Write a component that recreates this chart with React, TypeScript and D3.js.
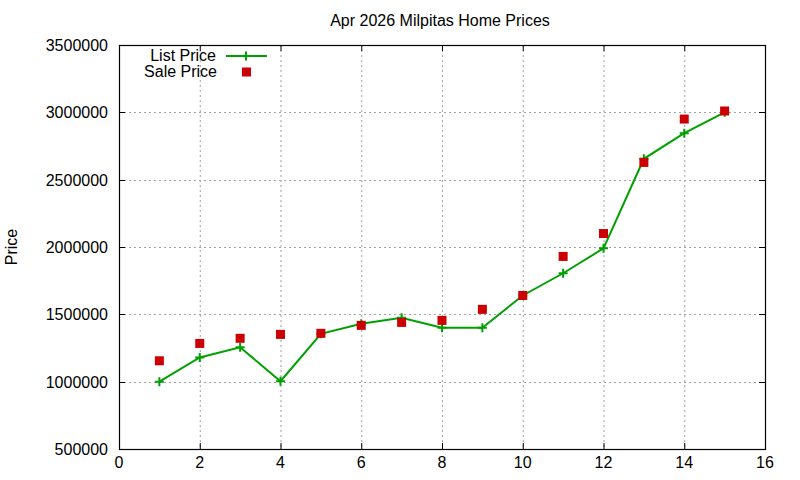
import React, { useEffect, useRef } from 'react';
import * as d3 from 'd3';

const months = [1, 2, 3, 4, 5, 6, 7, 8, 9, 10, 11, 12, 13, 14, 15];
const listPrice = [1000000, 1180000, 1255000, 1003000, 1355000, 1430000, 1475000, 1400000, 1400000, 1640000, 1805000, 1990000, 2655000, 2845000, 3000000];
const salePrice = [1155000, 1284000, 1322000, 1351000, 1359000, 1418000, 1440000, 1455000, 1537000, 1640000, 1930000, 2100000, 2628000, 2950000, 3010000];
const xTicks = [0, 2, 4, 6, 8, 10, 12, 14, 16];
const yTicks = [500000, 1000000, 1500000, 2000000, 2500000, 3000000, 3500000];

const App: React.FC = () => {
  const ref = useRef<SVGSVGElement | null>(null);

  useEffect(() => {
    const svg = d3.select(ref.current);
    svg.selectAll('*').remove();

    const left = 119, right = 765, top = 45, bottom = 449;
    const font = 'Liberation Sans, Arial, sans-serif';
    const fs = '16px';

    const x = d3.scaleLinear().domain([0, 16]).range([left, right]);
    const y = d3.scaleLinear().domain([500000, 3500000]).range([bottom, top]);

    svg.append('rect').attr('width', 800).attr('height', 480).attr('fill', 'white');

    // grid
    const grid = svg.append('g')
      .attr('stroke', '#a0a0a0')
      .attr('stroke-width', 1)
      .attr('stroke-dasharray', '2,3');
    xTicks.slice(1, -1).forEach(t => {
      grid.append('line')
        .attr('x1', x(t) + 0.5).attr('x2', x(t) + 0.5)
        .attr('y1', top).attr('y2', bottom);
    });
    yTicks.slice(1, -1).forEach(t => {
      grid.append('line')
        .attr('x1', left).attr('x2', right)
        .attr('y1', Math.round(y(t)) + 0.5).attr('y2', Math.round(y(t)) + 0.5);
    });

    // ticks (inward, mirrored)
    const ticks = svg.append('g').attr('stroke', 'black').attr('stroke-width', 1);
    xTicks.forEach(t => {
      const px = x(t) + 0.5;
      ticks.append('line').attr('x1', px).attr('x2', px).attr('y1', bottom).attr('y2', bottom - 6);
      ticks.append('line').attr('x1', px).attr('x2', px).attr('y1', top).attr('y2', top + 6);
    });
    yTicks.forEach(t => {
      const py = Math.round(y(t)) + 0.5;
      ticks.append('line').attr('x1', left).attr('x2', left + 6).attr('y1', py).attr('y2', py);
      ticks.append('line').attr('x1', right).attr('x2', right - 6).attr('y1', py).attr('y2', py);
    });

    // frame
    svg.append('rect')
      .attr('x', left + 0.5).attr('y', top + 0.5)
      .attr('width', right - left).attr('height', bottom - top)
      .attr('fill', 'none').attr('stroke', 'black').attr('stroke-width', 1.2);

    // tick labels
    xTicks.forEach(t => {
      svg.append('text')
        .attr('x', x(t)).attr('y', bottom + 19)
        .attr('text-anchor', 'middle')
        .style('font-family', font).style('font-size', fs)
        .text(t);
    });
    yTicks.forEach(t => {
      svg.append('text')
        .attr('x', left - 11).attr('y', y(t) + 6)
        .attr('text-anchor', 'end')
        .style('font-family', font).style('font-size', fs)
        .text(t);
    });

    // title and axis label
    svg.append('text')
      .attr('x', 440).attr('y', 26)
      .attr('text-anchor', 'middle')
      .style('font-family', font).style('font-size', fs)
      .text('Apr 2026 Milpitas Home Prices');

    svg.append('text')
      .attr('transform', `translate(17,${(top + bottom) / 2}) rotate(-90)`)
      .attr('text-anchor', 'middle')
      .style('font-family', font).style('font-size', fs)
      .text('Price');

    const green = '#00a000';
    const red = '#cc0000';

    const line = d3.line<number>()
      .x((_, i) => x(months[i]))
      .y(d => y(d));

    svg.append('path')
      .datum(listPrice)
      .attr('d', line)
      .attr('fill', 'none')
      .attr('stroke', green)
      .attr('stroke-width', 2);

    const plus = (g: d3.Selection<SVGGElement, unknown, null, undefined>, cx: number, cy: number) => {
      g.append('path')
        .attr('d', `M${cx - 4.5},${cy}H${cx + 4.5}M${cx},${cy - 4.5}V${cy + 4.5}`)
        .attr('stroke', green).attr('stroke-width', 2).attr('fill', 'none');
    };

    const marks = svg.append('g');
    listPrice.forEach((v, i) => plus(marks, x(months[i]), y(v)));

    svg.append('g').selectAll('rect')
      .data(salePrice)
      .enter().append('rect')
      .attr('x', (_, i) => x(months[i]) - 4.5)
      .attr('y', d => y(d) - 4.5)
      .attr('width', 9).attr('height', 9)
      .attr('fill', red);

    // legend
    svg.append('text')
      .attr('x', 216).attr('y', 61)
      .attr('text-anchor', 'end')
      .style('font-family', font).style('font-size', fs)
      .text('List Price');
    svg.append('line')
      .attr('x1', 226).attr('x2', 267).attr('y1', 56).attr('y2', 56)
      .attr('stroke', green).attr('stroke-width', 2);
    plus(marks, 246, 56);

    svg.append('text')
      .attr('x', 217).attr('y', 77)
      .attr('text-anchor', 'end')
      .style('font-family', font).style('font-size', fs)
      .text('Sale Price');
    svg.append('rect')
      .attr('x', 242).attr('y', 67.5).attr('width', 9).attr('height', 9)
      .attr('fill', red);
  }, []);

  return <svg ref={ref} width={800} height={480} style={{ display: 'block', position: 'absolute', left: 0, top: 0 }} />;
};

export default App;
